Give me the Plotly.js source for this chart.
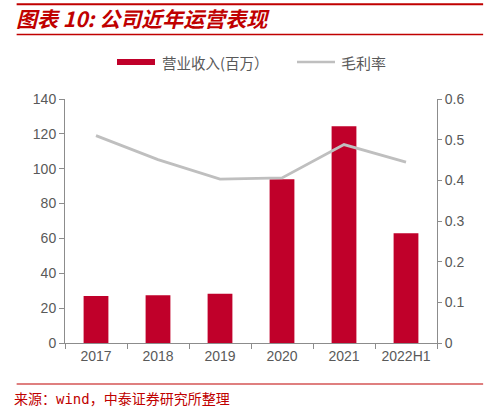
<!DOCTYPE html>
<html>
<head>
<meta charset="utf-8">
<script src="https://cdn.plot.ly/plotly-3.0.1.min.js"></script>
<style>
html,body{margin:0;padding:0;background:#fff;}
#chart{width:499px;height:412px;}
</style>
</head>
<body>
<div id="chart"></div>
<script>
const categories = ['2017', '2018', '2019', '2020', '2021', '2022H1'];
const revenue = [27.0, 27.4, 28.3, 93.9, 124.3, 62.9];
const grossMargin = [0.510, 0.451, 0.403, 0.406, 0.488, 0.445];
const revenueName = '营业收入(百万）';
const marginName = '毛利率';
const leftTicks = [0, 20, 40, 60, 80, 100, 120, 140];
const rightTicks = [0, 0.1, 0.2, 0.3, 0.4, 0.5, 0.6];
const rightTickText = ['0', '0.1', '0.2', '0.3', '0.4', '0.5', '0.6'];

const red = '#c0002a';
const grey = '#bfbfbf';
const axisGrey = '#8c8c8c';
const cjk = '"Noto Sans CJK SC", "Liberation Sans", sans-serif';
const latin = '"Liberation Sans", Arial, sans-serif';

const traces = [
  {type: 'bar', x: categories, y: revenue, name: revenueName,
   marker: {color: red}, width: 0.4, showlegend: false, yaxis: 'y'},
  {type: 'scatter', mode: 'lines', x: categories, y: grossMargin, name: marginName,
   line: {color: grey, width: 2.8}, showlegend: false, yaxis: 'y2'}
];

const layout = {
  width: 499, height: 412,
  margin: {l: 65, r: 62, t: 99, b: 69},
  paper_bgcolor: '#fff', plot_bgcolor: '#fff',
  font: {family: latin, size: 14, color: '#595959'},
  bargap: 0.6,
  xaxis: {
    type: 'category', showgrid: false, zeroline: false,
    showline: true, linecolor: axisGrey, linewidth: 1,
    ticks: 'outside', tickson: 'boundaries', ticklen: 5, tickcolor: axisGrey,
    tickfont: {family: latin, size: 14, color: '#595959'}
  },
  yaxis: {
    range: [0, 140], tickvals: leftTicks, showgrid: false, zeroline: false,
    showline: true, linecolor: axisGrey, linewidth: 1,
    ticks: 'outside', ticklen: 5, tickcolor: axisGrey,
    tickfont: {family: latin, size: 14, color: '#595959'}
  },
  yaxis2: {
    range: [0, 0.6], tickvals: rightTicks, ticktext: rightTickText,
    overlaying: 'y', side: 'right', showgrid: false, zeroline: false,
    showline: true, linecolor: axisGrey, linewidth: 1,
    ticks: 'outside', ticklen: 4, tickcolor: axisGrey,
    tickfont: {family: latin, size: 14, color: '#595959'}
  },
  shapes: [
    {type: 'line', xref: 'paper', yref: 'paper', x0: -0.13, x1: 1.124, y0: 1.388, y1: 1.388,
     line: {color: '#c00000', width: 2}},
    {type: 'line', xref: 'paper', yref: 'paper', x0: -0.13, x1: 1.124, y0: (343-34.5)/244, y1: (343-34.5)/244,
     line: {color: '#c00000', width: 1.5}},
    {type: 'line', xref: 'paper', yref: 'paper', x0: -0.13, x1: 1.124, y0: -0.168, y1: -0.168,
     line: {color: '#c00000', width: 1.2}},
    // legend swatches
    {type: 'rect', xref: 'paper', yref: 'paper', x0: (117-65)/372, x1: (155-65)/372,
     y0: (343-65)/244, y1: (343-59)/244, fillcolor: red, line: {width: 0}},
    {type: 'line', xref: 'paper', yref: 'paper', x0: (297-65)/372, x1: (335-65)/372,
     y0: (343-62)/244, y1: (343-62)/244, line: {color: grey, width: 2.5}}
  ],
  annotations: [
    {xref: 'paper', yref: 'paper', x: (14-65)/372, y: (343-18)/244, xanchor: 'left', yanchor: 'middle',
     text: '<b><i>图表 10: 公司近年运营表现</i></b>', showarrow: false,
     font: {family: cjk, size: 21, color: '#c00000'}},
    {xref: 'paper', yref: 'paper', x: (160-65)/372, y: (343-62)/244, xanchor: 'left', yanchor: 'middle',
     text: revenueName, showarrow: false, font: {family: cjk, size: 14.5, color: '#595959'}},
    {xref: 'paper', yref: 'paper', x: (339-65)/372, y: (343-62)/244, xanchor: 'left', yanchor: 'middle',
     text: marginName, showarrow: false, font: {family: cjk, size: 15, color: '#595959'}},
    {xref: 'paper', yref: 'paper', x: (12-65)/372, y: (343-399)/244, xanchor: 'left', yanchor: 'middle',
     text: '来源：wind，中泰证券研究所整理', showarrow: false,
     font: {family: '"DejaVu Sans Mono", "Noto Sans CJK SC", monospace', size: 14, color: '#c00000'}}
  ]
};

Plotly.newPlot('chart', traces, layout, {displayModeBar: false, staticPlot: true});
</script>
</body>
</html>
